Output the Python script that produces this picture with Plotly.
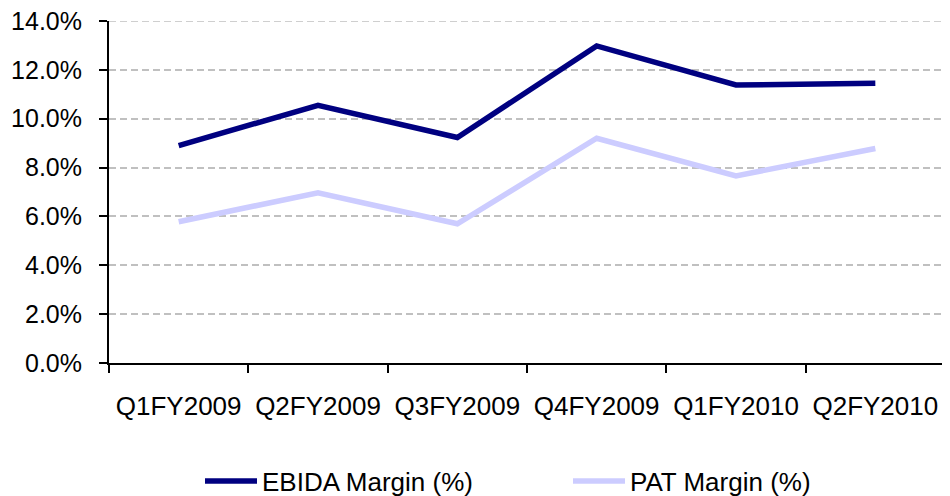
import plotly.graph_objects as go

quarters = ["Q1FY2009", "Q2FY2009", "Q3FY2009", "Q4FY2009", "Q1FY2010", "Q2FY2010"]
ebida_margin = [8.9, 10.55, 9.23, 12.98, 11.38, 11.45]
pat_margin = [5.78, 6.97, 5.7, 9.2, 7.66, 8.78]
y_ticks = [0, 2, 4, 6, 8, 10, 12, 14]
y_tick_labels = [f"{v:.1f}%" for v in y_ticks]

FONT = "Liberation Sans, Arial, sans-serif"
W, H = 942, 488  # page body has an 8px margin
GRID_COLOR = "#c0c0c0"
GRID_DASH = "7px,4px"

fig = go.Figure()
fig.add_trace(go.Scatter(x=quarters, y=ebida_margin, mode="lines", name="EBIDA Margin (%)",
                         line=dict(color="#000080", width=5.5)))
fig.add_trace(go.Scatter(x=quarters, y=pat_margin, mode="lines", name="PAT Margin (%)",
                         line=dict(color="#ccccff", width=5.5)))

# top gridline (plotly drops gridlines lying on the plot edge)
fig.add_shape(type="line", xref="paper", x0=0, x1=1, yref="y", y0=y_ticks[-1], y1=y_ticks[-1],
              line=dict(color=GRID_COLOR, width=1.5, dash=GRID_DASH), layer="below")

fig.update_layout(
    width=W, height=H,
    margin=dict(l=101, r=5, t=13, b=133),
    paper_bgcolor="white", plot_bgcolor="white",
    font=dict(family=FONT, size=25, color="black"),
    showlegend=True,
    legend=dict(orientation="h", xref="container", x=192 / W, xanchor="left",
                yref="container", y=(H - 473) / H, yanchor="middle",
                font=dict(size=26), entrywidth=301, itemwidth=52,
                bgcolor="rgba(0,0,0,0)"),
)
fig.update_xaxes(
    type="category", range=[-0.5, 5.5], automargin=False,
    showline=True, linecolor="black", linewidth=2,
    ticks="outside", tickson="boundaries", ticklen=8, tickwidth=2, tickcolor="black",
    showgrid=False, tickfont=dict(size=26), ticklabelstandoff=19,
    ticklabeloverflow="allow",
)
fig.update_yaxes(
    range=[0, 14], tickvals=y_ticks, ticktext=y_tick_labels, automargin=False,
    showline=True, linecolor="black", linewidth=2,
    ticks="outside", ticklen=8, tickwidth=2, tickcolor="black",
    showgrid=True, gridcolor=GRID_COLOR, griddash=GRID_DASH, gridwidth=1.5,
    zeroline=False, tickfont=dict(size=25), ticklabelstandoff=12,
    ticklabeloverflow="allow",
)

fig.write_html("out.html")
